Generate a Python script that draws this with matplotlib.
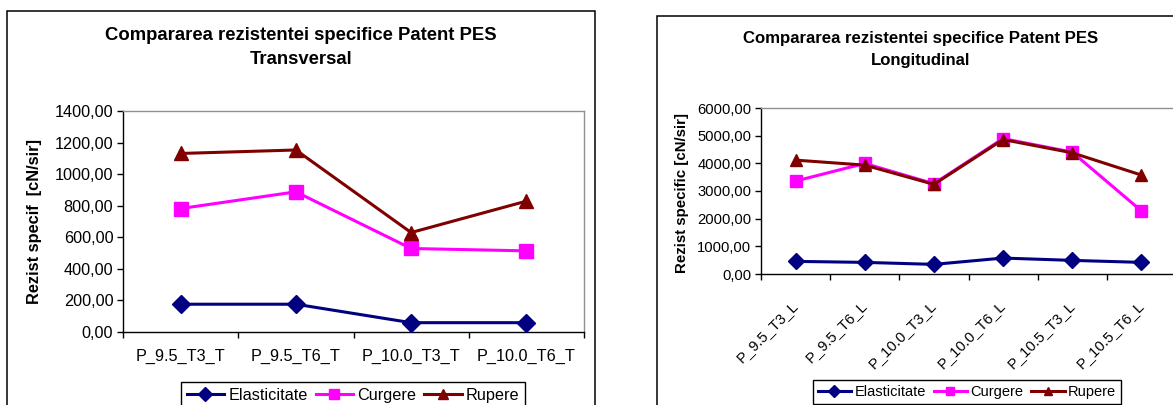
import matplotlib
matplotlib.use('Agg')

import numpy as np
import matplotlib.pyplot as plt
from matplotlib.patches import Rectangle
from matplotlib.ticker import FuncFormatter, FixedLocator

plt.rcParams['font.family'] = ['Liberation Sans', 'DejaVu Sans']

W, H = 1173, 405

series = ['Elasticitate', 'Curgere', 'Rupere']
colors = ['#000080', '#FF00FF', '#800000']
markers = ['D', 's', '^']

# transversal samples
cat_T = ['P_9.5_T3_T', 'P_9.5_T6_T', 'P_10.0_T3_T', 'P_10.0_T6_T']
elast_T = [176, 176, 59, 59]
curg_T = [782, 888, 529, 514]
rup_T = [1131, 1153, 630, 829]

# longitudinal samples
cat_L = ['P_9.5_T3_L', 'P_9.5_T6_L', 'P_10.0_T3_L',
         'P_10.0_T6_L', 'P_10.5_T3_L', 'P_10.5_T6_L']
elast_L = [456, 420, 348, 576, 492, 420]
curg_L = [3360, 3996, 3264, 4896, 4404, 2280]
rup_L = [4116, 3936, 3240, 4860, 4380, 3576]


def px_rect(x0, y0, x1, y1):
    # pixel box (top-left origin) -> figure fraction [l, b, w, h]
    return [x0 / W, 1 - y1 / H, (x1 - x0) / W, (y1 - y0) / H]


def comma_fmt(v, pos):
    return ('%.2f' % v).replace('.', ',')


def chart(fig, box, cats, data, ymax, ystep, fs, title2, ylabel,
          frame, title_xy, ylab_xy, leg_xy, rotate=False):
    fs_title, fs_tick, fs_ylab, fs_leg, msz = fs

    fx0, fy0, fx1, fy1 = frame
    fig.add_artist(Rectangle((fx0 / W, 1 - fy1 / H), (fx1 - fx0) / W, (fy1 - fy0) / H,
                             transform=fig.transFigure, fill=False,
                             edgecolor='black', lw=1.1, clip_on=False))

    tx, ty1, ty2 = title_xy
    fig.text(tx / W, 1 - ty1 / H, 'Compararea rezistentei specifice Patent PES',
             ha='center', va='center', fontsize=fs_title, fontweight='bold')
    fig.text(tx / W, 1 - ty2 / H, title2,
             ha='center', va='center', fontsize=fs_title, fontweight='bold')

    ax = fig.add_axes(px_rect(*box))
    x = np.arange(len(cats))
    lines = []
    for vals, name, c, m in zip(data, series, colors, markers):
        ln, = ax.plot(x, vals, color=c, lw=2.2, marker=m, markersize=msz,
                      markerfacecolor=c, markeredgecolor=c, label=name,
                      clip_on=False, zorder=3)
        lines.append(ln)

    ax.set_xlim(-0.5, len(cats) - 0.5)
    ax.set_ylim(0, ymax)
    ax.set_yticks(np.arange(0, ymax + 1, ystep))
    ax.yaxis.set_major_formatter(FuncFormatter(comma_fmt))

    for s in ['left', 'bottom']:
        ax.spines[s].set_color('black')
        ax.spines[s].set_linewidth(1.0)
    for s in ['top', 'right']:
        ax.spines[s].set_color('#909090')
        ax.spines[s].set_linewidth(1.0)

    ax.set_xticks(x)
    ax.xaxis.set_minor_locator(FixedLocator(np.arange(len(cats) + 1) - 0.5))
    ax.tick_params(axis='x', which='major', length=0)
    ax.tick_params(axis='x', which='minor', length=4, width=1, direction='out')
    ax.tick_params(axis='y', length=4, width=1, direction='out', pad=3,
                   labelsize=fs_tick)
    if rotate:
        ax.set_xticklabels(cats, rotation=45, ha='right', va='center',
                           rotation_mode='anchor', fontsize=fs_tick)
        ax.tick_params(axis='x', which='major', pad=21)
    else:
        ax.set_xticklabels(cats, fontsize=fs_tick)
        ax.tick_params(axis='x', which='major', pad=12)

    lx, ly = ylab_xy
    fig.text(lx / W, 1 - ly / H, ylabel, rotation=90, ha='center', va='center',
             fontsize=fs_ylab, fontweight='bold')

    gx, gy, bpad = leg_xy
    leg = fig.legend(handles=lines, loc='upper center',
                     bbox_to_anchor=(gx / W, 1 - gy / H), ncol=3,
                     fontsize=fs_leg, frameon=True, fancybox=False,
                     edgecolor='black', framealpha=1, borderaxespad=0,
                     borderpad=bpad, handlelength=2.3, handletextpad=0.25,
                     columnspacing=0.5, markerscale=0.75)
    leg.get_frame().set_linewidth(1.0)
    return ax


fig = plt.figure(figsize=(W / 100, H / 100), dpi=100)
fig.patch.set_facecolor('white')

chart(fig, (123, 111, 584, 332), cat_T, [elast_T, curg_T, rup_T],
      1400, 200, (13.3, 11.7, 11.8, 11.7, 9.5),
      'Transversal', 'Rezist specif  [cN/sir]',
      frame=(7, 11, 595, 430), title_xy=(301, 35, 60),
      ylab_xy=(35, 222), leg_xy=(353, 382, 0.38))

chart(fig, (761, 108, 1176, 274), cat_L, [elast_L, curg_L, rup_L],
      6000, 1000, (12.1, 10.6, 10.8, 10.5, 8.5),
      'Longitudinal', 'Rezist specific [cN/sir]',
      frame=(657, 16, 1190, 430), title_xy=(921, 39, 61),
      ylab_xy=(682, 193), leg_xy=(967, 380, 0.35), rotate=True)

fig.savefig('out.png', dpi=100)
